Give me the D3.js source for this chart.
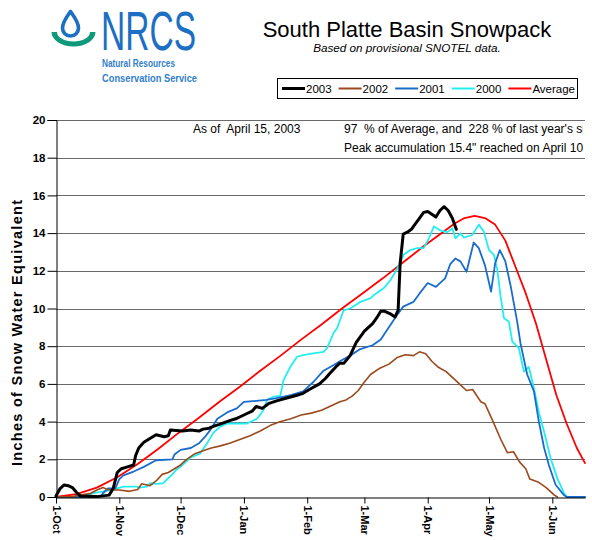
<!DOCTYPE html>
<html><head><meta charset="utf-8">
<script src="https://cdn.jsdelivr.net/npm/d3@7"></script>
<style>
body{margin:0;background:#fff}
svg{display:block}
text{font-family:Arial,"Liberation Sans",sans-serif}
</style>
</head><body>
<svg id="chart" width="592" height="540"></svg>
<script>
// ---------- data (day offset from 1-Oct, inches SWE) ----------
const monthLabels = ["1-Oct","1-Nov","1-Dec","1-Jan","1-Feb","1-Mar","1-Apr","1-May","1-Jun"];
const yTickValues = [0,2,4,6,8,10,12,14,16,18,20];
const seriesNames = ["2003","2002","2001","2000","Average"];

const swe2003 = [[0,0.05],[2,0.45],[4,0.64],[6,0.6],[8,0.5],[10,0.25],[12,0.05],[20,0.02],[26,0.1],[28,0.45],[30,1.3],[32,1.5],[35,1.6],[38,1.7],[39,2.2],[40.5,2.6],[43,2.9],[46,3.1],[49,3.3],[53,3.2],[55,3.25],[56,3.55],[62,3.5],[66,3.55],[70,3.5],[72,3.6],[75,3.65],[77,3.75],[80,3.85],[85,4.05],[88,4.15],[92,4.35],[96,4.55],[98,4.8],[101,4.7],[104,4.95],[108,5.1],[113,5.25],[118,5.4],[121,5.5],[124,5.7],[129,6.0],[132,6.3],[134,6.55],[137,6.9],[139,7.1],[141,7.1],[144,7.5],[147,8.2],[151,8.8],[155,9.2],[157,9.5],[159,9.85],[161,9.85],[164,9.7],[166,9.55],[167.5,9.9],[168.5,12.4],[170,13.95],[172,14.05],[174,14.2],[176,14.5],[178,14.8],[180,15.1],[182,15.15],[184,15.0],[186,14.85],[188,15.2],[190,15.4],[192,15.2],[194,14.8],[196,14.2]];

const swe2002 = [[0,0],[8,0.02],[12,0.1],[17,0.2],[20,0.37],[23,0.5],[25,0.4],[28,0.37],[31,0.37],[36,0.3],[40,0.4],[42,0.7],[46,0.6],[49,0.85],[52,1.2],[55,1.3],[58,1.5],[61,1.7],[64,2.0],[68,2.3],[72,2.45],[76,2.6],[80,2.7],[85,2.85],[90,3.05],[95,3.25],[100,3.5],[105,3.8],[110,4.0],[115,4.15],[120,4.35],[125,4.45],[130,4.6],[134,4.8],[139,5.05],[142,5.15],[145,5.35],[148,5.65],[151,6.1],[154,6.5],[158,6.8],[163,7.05],[167,7.4],[171,7.55],[175,7.5],[178,7.7],[181,7.6],[184,7.2],[187,6.9],[191,6.65],[195,6.25],[198,5.95],[201,5.65],[204,5.7],[208,5.05],[210,4.95],[214,4.0],[218,3.0],[221,2.35],[224,2.4],[227,1.85],[230,1.5],[232,0.95],[236,0.8],[240,0.5],[244,0.1],[245.5,0]];

const swe2001 = [[0,0],[20,0],[22,0.05],[23,0.2],[25.5,0.45],[29,0.45],[31,0.95],[33,1.15],[38,1.35],[43,1.6],[49,1.95],[57,2.0],[58,2.25],[61,2.5],[66,2.6],[70,2.85],[73,3.2],[75.5,3.55],[79,4.15],[84,4.5],[88.5,4.7],[92,5.05],[98,5.1],[103,5.15],[108,5.25],[115,5.4],[121,5.6],[126,6.1],[131,6.7],[136,7.0],[139,7.2],[144,7.5],[149,7.85],[155,8.05],[159,8.35],[162,8.85],[167,9.65],[170,10.1],[175,10.35],[178,10.8],[182,11.35],[186,11.15],[190.5,11.6],[193,12.35],[195.5,12.65],[198,12.5],[201,11.95],[204.5,13.5],[207,13.2],[210,12.3],[213,10.9],[215,12.4],[217.3,13.1],[220,12.5],[222.5,11.25],[225.8,9.3],[227.5,8.1],[230.7,6.5],[234,5.6],[236.4,4.0],[239,2.6],[241.3,1.7],[244.6,0.65],[248.7,0.1],[250,0],[259,0]];

const swe2000 = [[0,0],[10,0.02],[15,0.1],[18,0.2],[23,0.28],[26.5,0.37],[30,0.46],[33,0.55],[39.5,0.55],[41,0.5],[44.5,0.55],[46,0.73],[49.5,0.7],[52.5,0.73],[54,0.9],[56.7,1.17],[59,1.45],[62,1.7],[66,2.1],[70.5,2.3],[74,2.85],[77,3.4],[80.4,3.73],[84,3.9],[93.5,3.9],[98.4,4.15],[101.6,4.6],[103.3,5.15],[106.5,5.32],[109.8,5.36],[111.4,6.2],[114.7,6.9],[118,7.44],[121,7.53],[126,7.62],[131,7.7],[132.7,7.9],[135.9,8.7],[137.6,8.95],[140.8,9.9],[144,10.0],[149,10.35],[154,10.55],[155.5,10.7],[160.4,11.07],[163.7,11.5],[167,12.1],[170.2,12.85],[173.5,13.1],[176.8,13.2],[180,13.2],[182.5,13.7],[185,14.35],[188,14.15],[191.5,14.05],[194,14.25],[195.6,13.72],[198,13.99],[199.7,13.76],[203.8,13.9],[207,14.45],[209.5,14.07],[212,13.1],[214.4,12.85],[216,12.1],[217.6,10.7],[219.3,9.5],[221.7,9.3],[223.4,8.25],[226.6,7.9],[229.1,6.65],[231.5,6.9],[234,5.77],[236.4,4.5],[239,3.45],[242.2,2.05],[245.4,1.0],[248.7,0.2],[250.3,0],[259,0]];

const sweAverage = [[0,0],[10,0.15],[20,0.5],[30,1.05],[40,1.75],[50,2.55],[60,3.4],[70,4.2],[80,5.05],[90,5.85],[100,6.7],[110,7.5],[120,8.35],[130,9.15],[140,10.0],[150,10.8],[160,11.6],[170,12.45],[180,13.3],[190,14.1],[195,14.5],[200,14.8],[205,14.92],[210,14.8],[215,14.45],[220,13.6],[225,12.2],[230,10.8],[235,9.2],[240,7.3],[245,5.4],[250,3.9],[255,2.6],[259,1.8]];

const titleText = "South Platte Basin Snowpack";
const subtitleText = "Based on provisional SNOTEL data.";
const yAxisTitle = "Inches of Snow Water Equivalent";
const noteLines = [
  {text:"As of  April 15, 2003", col:0, row:0},
  {text:"97  % of Average, and  228 % of last year's snowpack", col:1, row:0},
  {text:"Peak accumulation 15.4\" reached on April 10", col:1, row:1}
];

// ---------- setup ----------
const svg = d3.select("#chart");
const W = 592, H = 540;
const start = new Date(Date.UTC(2002,9,1));
const end = new Date(Date.UTC(2003,5,17));
const dayToDate = d => new Date(start.getTime() + d*864e5);
const margin = {left:56, right:7, top:120, bottom:43};

const x = d3.scaleUtc().domain([start,end]).range([margin.left, W - margin.right]);
const y = d3.scaleLinear().domain([0,20]).range([H - margin.bottom, margin.top]);

svg.append("rect").attr("width",W).attr("height",H).attr("fill","#fff");

// gridlines
svg.append("g").selectAll("line").data(yTickValues.filter(v=>v>0)).join("line")
  .attr("x1",margin.left).attr("x2",W-margin.right)
  .attr("y1",d=>Math.round(y(d))+0.5).attr("y2",d=>Math.round(y(d))+0.5)
  .attr("stroke","#6a6a6a").attr("stroke-width",1);

// annotation text (clipped at the right edge)
svg.append("clipPath").attr("id","noteclip").append("rect")
  .attr("x",0).attr("y",100).attr("width",583).attr("height",80);
const noteCols = [193, 344], noteRows = [133, 152];
svg.append("g").attr("clip-path","url(#noteclip)").selectAll("text").data(noteLines).join("text")
  .attr("x",d=>noteCols[d.col]).attr("y",d=>noteRows[d.row])
  .attr("font-size",12).attr("fill","#000")
  .style("white-space","pre").text(d=>d.text);

// series
const series = [
  {name:"Average", data:sweAverage, color:"#ff0000", w:1.8},
  {name:"2000", data:swe2000, color:"#22eef2", w:1.8},
  {name:"2001", data:swe2001, color:"#1a6ccc", w:1.8},
  {name:"2002", data:swe2002, color:"#9a4a1c", w:1.6},
  {name:"2003", data:swe2003, color:"#000000", w:3}
];
const line = d3.line().x(d=>x(dayToDate(d[0]))).y(d=>y(d[1]));
svg.append("g").selectAll("path").data(series).join("path")
  .attr("d",d=>line(d.data)).attr("fill","none")
  .attr("stroke",d=>d.color).attr("stroke-width",d=>d.w)
  .attr("stroke-linejoin","round").attr("stroke-linecap","round");

// y axis
const yAxis = d3.axisLeft(y).tickValues(yTickValues).tickSize(9).tickPadding(2);
const gy = svg.append("g").attr("transform",`translate(${margin.left+0.5},0)`).call(yAxis);
gy.select(".domain").attr("stroke","#000");
gy.selectAll(".tick line").attr("stroke","#000");
gy.selectAll("text").attr("font-size",11.5).attr("font-weight","bold").attr("fill","#000")
  .attr("font-family","Arial, 'Liberation Sans', sans-serif");

// x axis
const monthDates = d3.utcMonth.range(start, end);
const gx = svg.append("g").attr("transform",`translate(0,${y(0)+0.5})`)
  .call(d3.axisBottom(x).tickValues(monthDates).tickSize(6).tickSizeOuter(0)
        .tickFormat((d,i)=>monthLabels[i]));
gx.select(".domain").attr("stroke","#000");
gx.selectAll(".tick line").attr("stroke","#000");
gx.selectAll("text").attr("font-size",11).attr("font-weight","bold").attr("fill","#000")
  .attr("font-family","Arial, 'Liberation Sans', sans-serif")
  .attr("text-anchor","start").attr("dy",null).attr("y",null)
  .attr("transform","translate(0,8) rotate(90)").attr("dominant-baseline","central");

// y axis title
svg.append("text").attr("transform","translate(22,333) rotate(-90)")
  .attr("text-anchor","middle").attr("font-size",14.5).attr("font-weight","bold")
  .attr("textLength",266).attr("lengthAdjust","spacing")
  .attr("fill","#000").text(yAxisTitle);

// title
svg.append("text").attr("x",407).attr("y",37).attr("text-anchor","middle")
  .attr("font-size",22).attr("fill","#000").text(titleText);
svg.append("text").attr("x",407).attr("y",52).attr("text-anchor","middle")
  .attr("font-size",11.7).attr("font-style","italic").attr("fill","#000").text(subtitleText);

// legend
const legendOrder = seriesNames.map(n=>series.find(s=>s.name===n));
const lg = svg.append("g");
lg.append("rect").attr("x",277.5).attr("y",78.5).attr("width",300).attr("height",20)
  .attr("fill","#fff").attr("stroke","#000").attr("stroke-width",1);
let lx = 282;
legendOrder.forEach(s=>{
  lg.append("line").attr("x1",lx).attr("x2",lx+23).attr("y1",88.5).attr("y2",88.5)
    .attr("stroke",s.color).attr("stroke-width",s.name==="2003"?3:2);
  const t = lg.append("text").attr("x",lx+24).attr("y",92.5).attr("font-size",11.5)
    .attr("fill","#000").text(s.name);
  lx += 24 + t.node().getComputedTextLength() + 7;
});

// NRCS logo
const logo = svg.append("g");
logo.append("path")
  .attr("d","M51.5,32 L57,32 A16.5,9.5 0 0 0 90,32 L95.5,32 A22,14.5 0 0 1 51.5,32 Z")
  .attr("fill","#0e9a7a");
logo.append("path")
  .attr("d","M70.5,11.5 C67,16.5 62.5,22 62.5,28 A8,8 0 0 0 78.5,28 C78.5,22 74,16.5 70.5,11.5 Z")
  .attr("fill","#fff").attr("stroke","#1c6fc2").attr("stroke-width",3.6).attr("stroke-linejoin","round");
logo.append("text").attr("x",101).attr("y",49.5).attr("font-size",55)
  .attr("font-family","Roboto, 'Liberation Sans Narrow', sans-serif").attr("font-weight",300)
  .attr("textLength",95).attr("lengthAdjust","spacingAndGlyphs")
  .attr("fill","#1c6fc2").text("NRCS");
logo.append("text").attr("x",102).attr("y",67).attr("font-size",11.5)
  .attr("font-family","'Open Sans', sans-serif").attr("font-weight",600)
  .attr("textLength",73).attr("lengthAdjust","spacingAndGlyphs")
  .attr("fill","#3380cc").text("Natural Resources");
logo.append("text").attr("x",102).attr("y",81.5).attr("font-size",11.5)
  .attr("font-family","'Open Sans', sans-serif").attr("font-weight",600)
  .attr("textLength",95).attr("lengthAdjust","spacingAndGlyphs")
  .attr("fill","#3380cc").text("Conservation Service");
</script>
</body></html>
